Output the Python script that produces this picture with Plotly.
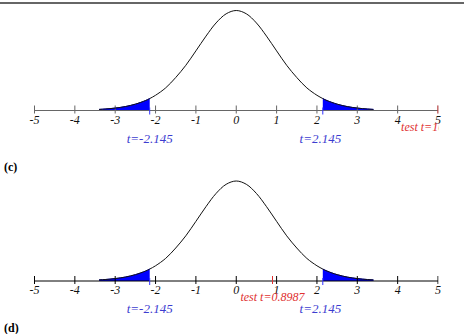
import plotly.graph_objects as go

# ---- data ----
tick_vals = [-5, -4, -3, -2, -1, 0, 1, 2, 3, 4, 5]
tick_text = ["-5", "-4", "-3", "-2", "-1", "0", "1", "2", "3", "4", "5"]

curve_x = [-3.4, -3.25, -3.0, -2.75, -2.5, -2.25, -2.145, -2.0, -1.75, -1.5, -1.25, -1.0,
           -0.75, -0.5, -0.25, 0.0, 0.25, 0.5, 0.75, 1.0, 1.25, 1.5, 1.75, 2.0, 2.145,
           2.25, 2.5, 2.75, 3.0, 3.25, 3.4]
curve_y = [0.0043, 0.0058, 0.0095, 0.0154, 0.025, 0.039, 0.047, 0.060, 0.089, 0.130, 0.178, 0.235,
           0.293, 0.345, 0.381, 0.394, 0.381, 0.345, 0.293, 0.235, 0.178, 0.130, 0.089, 0.060, 0.047,
           0.039, 0.025, 0.0154, 0.0095, 0.0058, 0.0043]

crit_t = 2.145
crit_labels = ["t=-2.145", "t=2.145"]
test_values = [10, 0.8987]
test_labels = ["test t=10", "test t=0.8987"]
test_label_pos = [4.62, 0.8987]   # where the label text sits on the axis
test_tick_pos = [5, 0.8987]       # red marker (clamped to axis end)
panel_labels = ["(c)", "(d)"]

# ---- geometry (pixels) ----
W, H = 464, 334
PX_X = 40.35          # px per t unit
X0 = 236.25           # px position of t = 0
PX_Y = 253.8          # px per density unit
AXIS_PX = [110.5, 281.0]
PANEL_ROWS = [(0, 167), (167, 334)]
XR = [-X0 / PX_X, (438.5 - X0) / PX_X]
XDOM = [0, 438.5 / W]

BLUE_TXT = "#3c3cd0"
RED = "#e03030"
AX_COL = ["#666666", "#000000"]
SERIF = "Liberation Serif"

fig = go.Figure()
layout = dict(width=W, height=H, margin=dict(l=0, r=0, t=0, b=0),
              paper_bgcolor="white", plot_bgcolor="white", showlegend=False)

def dy(px):
    return px / PX_Y

for p in range(2):
    xa = "x" if p == 0 else "x2"
    ya = "y" if p == 0 else "y2"
    top_px, bot_px = PANEL_ROWS[p]
    ax_px = AXIS_PX[p]
    yr = [-(bot_px - ax_px) / PX_Y, (ax_px - top_px) / PX_Y]
    layout["xaxis" if p == 0 else "xaxis2"] = dict(domain=XDOM, range=XR, visible=False, anchor=ya)
    layout["yaxis" if p == 0 else "yaxis2"] = dict(domain=[1 - bot_px / H, 1 - top_px / H], range=yr,
                                                   visible=False, anchor=xa)
    col = AX_COL[p]

    # shaded tails
    lx = [x for x in curve_x if x <= -crit_t + 1e-9]
    ly = [y for x, y in zip(curve_x, curve_y) if x <= -crit_t + 1e-9]
    rx = [x for x in curve_x if x >= crit_t - 1e-9]
    ry = [y for x, y in zip(curve_x, curve_y) if x >= crit_t - 1e-9]
    for tx, ty in ((lx, ly), (rx, ry)):
        fig.add_trace(go.Scatter(x=tx, y=ty, mode="lines", fill="tozeroy", fillcolor="#0000ff",
                                 line=dict(color="#0000ff", width=1, shape="spline"),
                                 xaxis=xa, yaxis=ya, hoverinfo="skip"))

    # axis line
    fig.add_trace(go.Scatter(x=[tick_vals[0], tick_vals[-1]], y=[0, 0], mode="lines",
                             line=dict(color=col, width=1), xaxis=xa, yaxis=ya, hoverinfo="skip"))
    # ticks
    tx, ty = [], []
    for t in tick_vals:
        tx += [t, t, None]
        ty += [dy(5), dy(-3), None]
    fig.add_trace(go.Scatter(x=tx, y=ty, mode="lines", line=dict(color=col, width=1),
                             xaxis=xa, yaxis=ya, hoverinfo="skip"))
    # critical ticks
    fig.add_trace(go.Scatter(x=[-crit_t, -crit_t, None, crit_t, crit_t],
                             y=[dy(3), dy(-4), None, dy(3), dy(-4)], mode="lines",
                             line=dict(color="#3030ff", width=1), xaxis=xa, yaxis=ya, hoverinfo="skip"))
    # test tick
    tt = test_tick_pos[p]
    fig.add_trace(go.Scatter(x=[tt, tt], y=[dy(5), dy(-3)], mode="lines",
                             line=dict(color=RED, width=1), xaxis=xa, yaxis=ya, hoverinfo="skip"))

    # density curve
    fig.add_trace(go.Scatter(x=curve_x, y=curve_y, mode="lines",
                             line=dict(color="#111111", width=1, shape="spline"),
                             xaxis=xa, yaxis=ya, hoverinfo="skip"))

    # tick labels
    fig.add_trace(go.Scatter(x=tick_vals, y=[dy(-10)] * len(tick_vals), mode="text", text=tick_text,
                             textposition="middle center", cliponaxis=False,
                             textfont=dict(family=SERIF, size=12, color="#111111", style="italic"),
                             xaxis=xa, yaxis=ya, hoverinfo="skip"))
    # critical labels
    fig.add_trace(go.Scatter(x=[-crit_t, crit_t - 0.06], y=[dy(-29)] * 2, mode="text", text=crit_labels,
                             textposition="middle center", cliponaxis=False,
                             textfont=dict(family=SERIF, size=13, color=BLUE_TXT, style="italic"),
                             xaxis=xa, yaxis=ya, hoverinfo="skip"))
    # test label
    fig.add_trace(go.Scatter(x=[test_label_pos[p]], y=[dy(-17)], mode="text", text=[test_labels[p]],
                             textposition="middle center", cliponaxis=True,
                             textfont=dict(family=SERIF, size=12, color=RED, style="italic"),
                             xaxis=xa, yaxis=ya, hoverinfo="skip"))

layout["shapes"] = [dict(type="line", xref="paper", yref="paper", x0=0, x1=1,
                         y0=1 - 3 / H, y1=1 - 3 / H, line=dict(color="#666666", width=2))]
layout["annotations"] = [
    dict(text="<b>%s</b>" % panel_labels[0], xref="paper", yref="paper", x=2 / W, y=1 - 167 / H,
         xanchor="left", yanchor="middle", showarrow=False,
         font=dict(family=SERIF, size=12, color="black")),
    dict(text="<b>%s</b>" % panel_labels[1], xref="paper", yref="paper", x=2 / W, y=1 - 328 / H,
         xanchor="left", yanchor="middle", showarrow=False,
         font=dict(family=SERIF, size=12, color="black")),
]
fig.update_layout(**layout)
fig.write_html("out.html")
